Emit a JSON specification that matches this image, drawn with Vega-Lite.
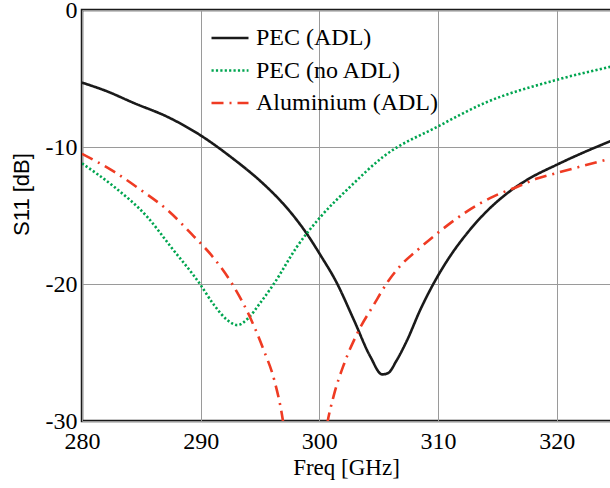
{
  "$schema": "https://vega.github.io/schema/vega-lite/v6.json",
  "autosize": {"type": "none"},
  "padding": {"left": 82, "top": 10, "right": 0, "bottom": 67},
  "width": 531,
  "height": 411,
  "background": "white",
  "config": {
    "view": {"stroke": "#1a1a1a", "strokeWidth": 2.5},
    "axis": {"labelFont": "Liberation Serif", "labelFontSize": 24, "labelColor": "black", "domain": false, "ticks": false, "grid": true, "gridColor": "#9a9a9a", "gridWidth": 1, "titleColor": "black", "titleFontWeight": "normal"}
  },
  "data": {"values": [
    {"s": "PEC (ADL)", "f": 280, "v": -5.3},
    {"s": "PEC (ADL)", "f": 282, "v": -5.9},
    {"s": "PEC (ADL)", "f": 284.4, "v": -6.8},
    {"s": "PEC (ADL)", "f": 287.2, "v": -7.8},
    {"s": "PEC (ADL)", "f": 289.9, "v": -9.1},
    {"s": "PEC (ADL)", "f": 292.5, "v": -10.7},
    {"s": "PEC (ADL)", "f": 295.3, "v": -12.7},
    {"s": "PEC (ADL)", "f": 296.7, "v": -13.9},
    {"s": "PEC (ADL)", "f": 297.8, "v": -15.0},
    {"s": "PEC (ADL)", "f": 299.0, "v": -16.4},
    {"s": "PEC (ADL)", "f": 300.1, "v": -17.9},
    {"s": "PEC (ADL)", "f": 301.4, "v": -19.8},
    {"s": "PEC (ADL)", "f": 302.9, "v": -22.6},
    {"s": "PEC (ADL)", "f": 304.3, "v": -25.3},
    {"s": "PEC (ADL)", "f": 305.3, "v": -26.6},
    {"s": "PEC (ADL)", "f": 305.8, "v": -26.5},
    {"s": "PEC (ADL)", "f": 306.5, "v": -25.6},
    {"s": "PEC (ADL)", "f": 307.4, "v": -24.1},
    {"s": "PEC (ADL)", "f": 308.5, "v": -21.9},
    {"s": "PEC (ADL)", "f": 309.8, "v": -19.7},
    {"s": "PEC (ADL)", "f": 311.0, "v": -18.0},
    {"s": "PEC (ADL)", "f": 312.45, "v": -16.3},
    {"s": "PEC (ADL)", "f": 314.1, "v": -14.7},
    {"s": "PEC (ADL)", "f": 315.8, "v": -13.4},
    {"s": "PEC (ADL)", "f": 317.5, "v": -12.4},
    {"s": "PEC (ADL)", "f": 320.0, "v": -11.3},
    {"s": "PEC (ADL)", "f": 322.0, "v": -10.5},
    {"s": "PEC (ADL)", "f": 324.75, "v": -9.5},
    {"s": "PEC (no ADL)", "f": 280, "v": -11.2},
    {"s": "PEC (no ADL)", "f": 282.7, "v": -12.9},
    {"s": "PEC (no ADL)", "f": 285.5, "v": -15.1},
    {"s": "PEC (no ADL)", "f": 287.5, "v": -17.3},
    {"s": "PEC (no ADL)", "f": 289.9, "v": -19.95},
    {"s": "PEC (no ADL)", "f": 291.1, "v": -21.5},
    {"s": "PEC (no ADL)", "f": 292.2, "v": -22.6},
    {"s": "PEC (no ADL)", "f": 293.1, "v": -23.0},
    {"s": "PEC (no ADL)", "f": 294.0, "v": -22.5},
    {"s": "PEC (no ADL)", "f": 295.0, "v": -21.4},
    {"s": "PEC (no ADL)", "f": 296.2, "v": -19.95},
    {"s": "PEC (no ADL)", "f": 298.1, "v": -17.3},
    {"s": "PEC (no ADL)", "f": 300.1, "v": -15.1},
    {"s": "PEC (no ADL)", "f": 302.6, "v": -12.9},
    {"s": "PEC (no ADL)", "f": 305.4, "v": -10.7},
    {"s": "PEC (no ADL)", "f": 310.0, "v": -8.5},
    {"s": "PEC (no ADL)", "f": 313.9, "v": -6.8},
    {"s": "PEC (no ADL)", "f": 320.0, "v": -5.1},
    {"s": "PEC (no ADL)", "f": 324.75, "v": -4.1},
    {"s": "Aluminium (ADL)", "f": 280, "v": -10.5},
    {"s": "Aluminium (ADL)", "f": 282.7, "v": -11.8},
    {"s": "Aluminium (ADL)", "f": 284.9, "v": -13.1},
    {"s": "Aluminium (ADL)", "f": 287.2, "v": -14.6},
    {"s": "Aluminium (ADL)", "f": 289.4, "v": -16.5},
    {"s": "Aluminium (ADL)", "f": 291.1, "v": -18.1},
    {"s": "Aluminium (ADL)", "f": 292.8, "v": -20.2},
    {"s": "Aluminium (ADL)", "f": 294.2, "v": -22.5},
    {"s": "Aluminium (ADL)", "f": 295.3, "v": -24.8},
    {"s": "Aluminium (ADL)", "f": 296.2, "v": -27.0},
    {"s": "Aluminium (ADL)", "f": 296.9, "v": -29.8},
    {"s": "Aluminium (ADL)", "f": 297.4, "v": -33},
    {"s": "Aluminium (ADL)", "f": 298.5, "v": -40},
    {"s": "Aluminium (ADL)", "f": 299.8, "v": -36},
    {"s": "Aluminium (ADL)", "f": 300.7, "v": -30.05},
    {"s": "Aluminium (ADL)", "f": 301.2, "v": -28.2},
    {"s": "Aluminium (ADL)", "f": 302.1, "v": -25.8},
    {"s": "Aluminium (ADL)", "f": 303.2, "v": -23.6},
    {"s": "Aluminium (ADL)", "f": 304.6, "v": -21.5},
    {"s": "Aluminium (ADL)", "f": 305.8, "v": -19.8},
    {"s": "Aluminium (ADL)", "f": 306.8, "v": -18.7},
    {"s": "Aluminium (ADL)", "f": 308.3, "v": -17.5},
    {"s": "Aluminium (ADL)", "f": 309.8, "v": -16.4},
    {"s": "Aluminium (ADL)", "f": 312.45, "v": -14.7},
    {"s": "Aluminium (ADL)", "f": 314.7, "v": -13.6},
    {"s": "Aluminium (ADL)", "f": 316.7, "v": -12.9},
    {"s": "Aluminium (ADL)", "f": 318.35, "v": -12.3},
    {"s": "Aluminium (ADL)", "f": 320.0, "v": -11.9},
    {"s": "Aluminium (ADL)", "f": 324.75, "v": -10.8}
  ]},
  "mark": {"type": "line", "clip": true, "interpolate": "monotone", "strokeWidth": 2.6},
  "encoding": {
    "x": {"field": "f", "type": "quantitative",
      "scale": {"domain": [280, 324.75], "nice": false, "zero": false},
      "axis": {"values": [280, 290, 300, 310, 320], "labelPadding": 8, "labelDx": 6, "title": "Freq [GHz]", "titleFont": "Liberation Serif", "titleFontSize": 23, "titleX": 264, "titleY": 46, "titleBaseline": "middle", "titleAlign": "center", "labelFlush": false}},
    "y": {"field": "v", "type": "quantitative",
      "scale": {"domain": [-30, 0], "nice": false, "zero": false},
      "axis": {"values": [-30, -20, -10, 0], "labelExpr": "datum.value == 0 ? '0' : '-' + abs(datum.value)", "labelPadding": 5, "labelDy": -1, "title": "S11 [dB]", "titleFont": "Liberation Sans", "titleFontSize": 22, "titleAngle": -90, "titleX": -61, "titleY": 184, "titleBaseline": "middle", "titleAlign": "center", "labelFlush": false}},
    "color": {"field": "s", "type": "nominal",
      "scale": {"domain": ["PEC (ADL)", "PEC (no ADL)", "Aluminium (ADL)"], "range": ["#1a1a1a", "#00a550", "#ef3b23"]},
      "legend": {"orient": "none", "legendX": 128, "legendY": 8, "title": null, "symbolType": "stroke", "symbolSize": 1369, "symbolStrokeWidth": 2.6, "labelFont": "Liberation Serif", "labelFontSize": 24, "labelColor": "black", "labelLimit": 0, "rowPadding": 0.5, "labelOffset": 6, "padding": 0}},
    "strokeDash": {"field": "s", "type": "nominal",
      "scale": {"domain": ["PEC (ADL)", "PEC (no ADL)", "Aluminium (ADL)"], "range": [[1, 0], [2.2, 2.2], [12, 6, 2, 6]]},
      "legend": null}
  }
}
